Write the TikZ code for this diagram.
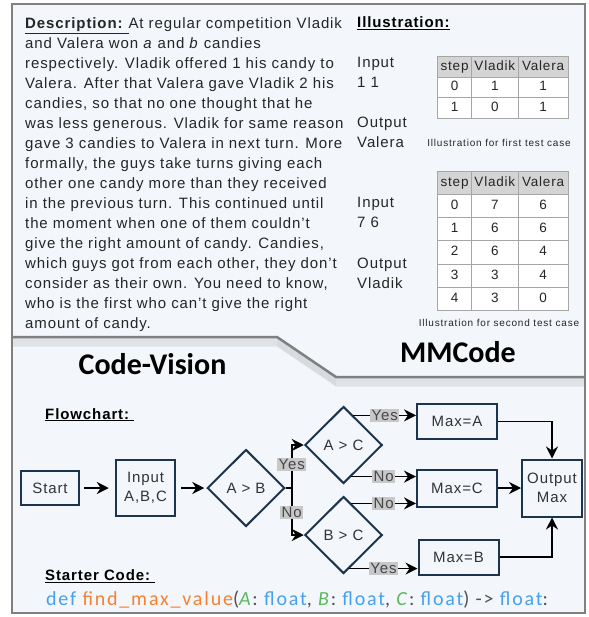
\documentclass[tikz,border=0pt]{standalone}
\usepackage{fontspec}
\setmainfont{Liberation Sans}[LetterSpace=6]
\newfontfamily\calibri{Carlito}
\newfontfamily\codefont{Carlito}[LetterSpace=9]
\newfontfamily\capfont{Liberation Sans}[LetterSpace=8]
\usetikzlibrary{positioning,shapes.geometric,arrows.meta,calc,matrix}

\definecolor{panelbg}{RGB}{243,246,250}
\definecolor{framegray}{RGB}{128,128,128}
\definecolor{boxnavy}{RGB}{28,52,78}
\definecolor{textdark}{RGB}{38,38,38}
\definecolor{flowtext}{RGB}{51,51,51}
\definecolor{taggray}{RGB}{200,200,200}
\definecolor{tagtext}{RGB}{70,70,70}
\definecolor{gridgray}{RGB}{166,166,166}
\definecolor{headgray}{RGB}{212,212,212}
\definecolor{codeblue}{RGB}{70,160,240}
\definecolor{codeorange}{RGB}{245,130,50}
\definecolor{codegreen}{RGB}{92,184,92}
\definecolor{codegray}{RGB}{80,80,80}

\begin{document}
\begin{tikzpicture}[x=1pt,y=-1pt,on grid,
    frame/.style={draw=framegray,line width=2.5pt},
    desc/.style={align=left,inner sep=0pt,text=textdark,font=\fontsize{15}{20}\selectfont},
    txt/.style={anchor=base west,inner sep=0pt,text=textdark,font=\fontsize{15}{20}\selectfont},
    heading/.style={anchor=base west,inner sep=0pt,font=\fontsize{15}{20}\selectfont\bfseries},
    title/.style={anchor=base,inner sep=0pt,font=\calibri\fontsize{30}{34}\selectfont\bfseries},
    caption/.style={inner sep=0pt,text=textdark,font=\capfont\fontsize{10}{12}\selectfont},
    table/.style={matrix of nodes,inner sep=0pt,column sep=-0.8pt,row sep=-0.8pt,
      nodes={draw=gridgray,line width=0.8pt,fill=white,anchor=center,inner sep=0pt,
        text height=10pt,text depth=3pt,text=textdark,font=\fontsize{13.5}{15}\selectfont},
      column 1/.style={nodes={minimum width=34pt}},
      column 2/.style={nodes={minimum width=46.5pt}},
      column 3/.style={nodes={minimum width=50pt}},
      row 1/.style={nodes={fill=headgray}}},
    box/.style={draw=boxnavy,line width=2pt,fill=panelbg,text=flowtext,align=center,
      inner sep=0pt,font=\fontsize{15}{19}\selectfont,minimum width=80pt,minimum height=35pt},
    decision/.style={diamond,draw=boxnavy,line width=2pt,fill=panelbg,text=flowtext,
      inner sep=0pt,font=\fontsize{15}{19}\selectfont,minimum width=77.5pt,minimum height=77pt},
    tag/.style={fill=taggray,text=tagtext,inner sep=1.3pt,font=\fontsize{15}{17}\selectfont},
    flow/.style={draw,line width=1.5pt,-{Stealth[length=12pt,width=12pt,inset=4pt]}}]

  \useasboundingbox (0,0) rectangle (588,617);

  % panel frame and the step between the two halves
  \draw[frame,fill=panelbg] (12,4) rectangle (585,613);
  \foreach \d in {1,...,9}
    \draw[black,opacity=0.08,line width=1pt] (13,337+\d) -- (277,337+\d) -- (336,377+\d) -- (584,377+\d);
  \draw[frame] (12,337) -- (277,337) -- (336,377) -- (585,377);

  % problem statement
  \node[desc,anchor=north west] (descr) at (25,14) {\strut\underline{\textbf{Description:}\ }At regular competition Vladik\\
    and Valera won \textit{a} and \textit{b} candies\\
    respectively. Vladik offered 1 his candy to\\
    Valera. After that Valera gave Vladik 2 his\\
    candies, so that no one thought that he\\
    was less generous. Vladik for same reason\\
    gave 3 candies to Valera in next turn. More\\
    formally, the guys take turns giving each\\
    other one candy more than they received\\
    in the previous turn. This continued until\\
    the moment when one of them couldn’t\\
    give the right amount of candy. Candies,\\
    which guys got from each other, they don’t\\
    consider as their own. You need to know,\\
    who is the first who can’t give the right\\
    amount of candy.};

  % illustration
  \node[heading] (illu) at (357,28) {\underline{Illustration:}};
  \node[txt] (inA) at (357,68) {Input};
  \node[txt] (inAval) at (357,88) {1 1};
  \node[txt] (outA) at (357,128) {Output};
  \node[txt] (outAval) at (357,148) {Valera};
  \node[txt] (inB) at (357,208) {Input};
  \node[txt] (inBval) at (357,228) {7 6};
  \node[txt] (outB) at (357,268) {Output};
  \node[txt] (outBval) at (357,288) {Vladik};

  \matrix (tabA) [table,nodes={minimum height=20.5pt},anchor=north west] at (437,56) {
    step & Vladik & Valera \\
    0 & 1 & 1 \\
    1 & 0 & 1 \\
  };
  \node[caption] (capA) at (499,143) {Illustration for first test case};

  \matrix (tabB) [table,nodes={minimum height=23.25pt},anchor=north west] at (437,170.5) {
    step & Vladik & Valera \\
    0 & 7 & 6 \\
    1 & 6 & 6 \\
    2 & 6 & 4 \\
    3 & 3 & 4 \\
    4 & 3 & 0 \\
  };
  \node[caption] (capB) at (499,323) {Illustration for second test case};

  % titles
  \node[title] (cv) at (152.5,374) {Code-Vision};
  \node[title] (mm) at (458,362) {MMCode};

  % flowchart
  \node[heading] (fc) at (45,419) {\underline{Flowchart:\ }};
  \node[box,minimum width=58pt,minimum height=34pt] (start) at (50,488) {Start};
  \node[box,minimum width=59.5pt,minimum height=56.5pt,right=95.5pt of start] (input) {Input\\A,B,C};
  \node[decision,right=100.5pt of input] (ab) {A > B};
  \node[decision,above right=43pt and 97.5pt of ab] (ac) {A > C};
  \node[decision,below right=47pt and 97.5pt of ab] (bc) {B > C};
  \node[box,above right=23.5pt and 113.5pt of ac] (maxa) {Max=A};
  \node[box,minimum height=37pt,right=211pt of ab] (maxc) {Max=C};
  \node[box,below right=22pt and 115pt of bc] (maxb) {Max=B};
  \node[box,minimum width=60pt,minimum height=57pt,right=306pt of ab] (out) {Output\\Max};

  \coordinate[right=6pt of ab.east] (split);
  \coordinate (acYes) at ($(ac.north)!0.25!(ac.east)$);
  \coordinate (acNo) at ($(ac.south)!0.2!(ac.east)$);
  \coordinate (bcNo) at ($(bc.north)!0.2!(bc.east)$);
  \coordinate (bcYes) at ($(bc.south)!0.15!(bc.east)$);

  \draw[flow,shorten <=4pt,shorten >=6pt] (start) -- (input);
  \draw[flow,shorten <=5pt,shorten >=2pt] (input) -- (ab);
  \draw[flow] (ab.east) -- (split) |- node[tag,pos=0.27] {Yes} (ac.west);
  \draw[flow] (split) |- node[tag,pos=0.26] {No} (bc.west);
  \draw[flow] (acYes) -- node[tag] {Yes} (acYes -| maxa.west);
  \draw[flow] (acNo) -- node[tag] {No} (acNo -| maxc.west);
  \draw[flow] (bcNo) -- node[tag] {No} (bcNo -| maxc.west);
  \draw[flow] (bcYes) -- node[tag] {Yes} (bcYes -| maxb.west);
  \draw[flow] (maxa.east) -| (out.north);
  \draw[flow] (maxc.east) -- (maxc.east -| out.west);
  \draw[flow] (maxb.east) -| (out.south);

  % starter code
  \node[heading] (sc) at (45,580.7) {\underline{Starter Code:\ }};
  \node[anchor=base west,inner sep=0pt,font=\codefont\fontsize{20}{22}\selectfont] (code) at (46,605.7)
    {\textcolor{codeblue}{def} \textcolor{codeorange}{find\_max\_value}\textcolor{codegray}{(}\textcolor{codegreen}{\textit{A}}\textcolor{codegray}{:}
     \textcolor{codeblue}{float}\textcolor{codegray}{,} \textcolor{codegreen}{\textit{B}}\textcolor{codegray}{:}
     \textcolor{codeblue}{float}\textcolor{codegray}{,} \textcolor{codegreen}{\textit{C}}\textcolor{codegray}{:}
     \textcolor{codeblue}{float}\textcolor{codegray}{) ->} \textcolor{codeblue}{float}\textcolor{codegray}{:}};
\end{tikzpicture}
\end{document}
